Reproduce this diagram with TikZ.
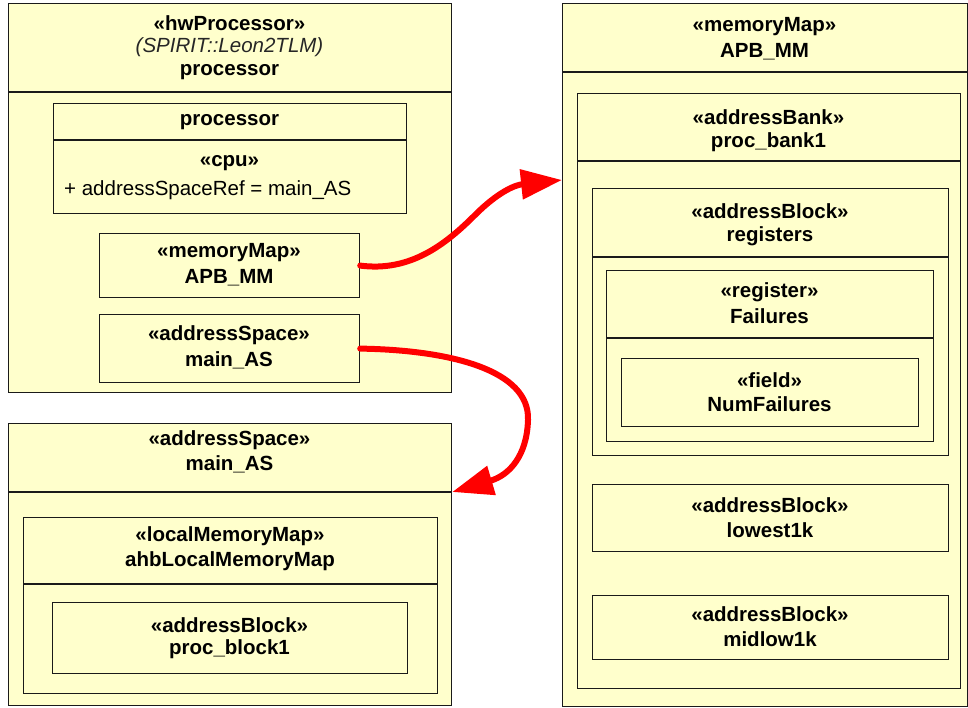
\documentclass[tikz,border=0pt]{standalone}
\usepackage{fontspec}
\setmainfont{Liberation Sans}
\usetikzlibrary{arrows.meta}
\definecolor{boxfill}{HTML}{FFFFCC}
\definecolor{boxline}{HTML}{1A1A1A}
\definecolor{arrowred}{HTML}{FF0000}
\tikzset{
  box/.style={draw=boxline, fill=boxfill, line width=1.2pt, inner sep=0pt, anchor=north west},
  divider/.style={draw=boxline, line width=1.2pt},
  lbl/.style={inner sep=0pt, font=\fontsize{20.5}{24}\selectfont\bfseries, text=black},
  ilbl/.style={inner sep=0pt, font=\fontsize{20.5}{24}\selectfont\itshape, text=black!85},
  rlbl/.style={inner sep=0pt, font=\fontsize{20.5}{24}\selectfont, text=black, anchor=west},
  link/.style={draw=arrowred, line width=6pt, line cap=round, -{Triangle[length=41pt,width=29pt]}}
}
\begin{document}
\begin{tikzpicture}[x=1pt,y=-1pt]
\useasboundingbox (0,0) rectangle (968,707);
% ---------- hwProcessor ----------
\node[box, minimum width=443, minimum height=389] (hw) at (8,3) {};
\draw[divider] (8,92) -- (451,92);
\node[lbl] (hwst) at (229.5,23) {«hwProcessor»};
\node[ilbl] (hwty) at (229.5,47) {(SPIRIT::Leon2TLM)};
\node[lbl] (hwnm) at (229.5,72) {processor};
\node[box, minimum width=353, minimum height=110] (cpu) at (53,103) {};
\draw[divider] (53,140) -- (406,140);
\node[lbl] (cpunm) at (229.5,122) {processor};
\node[lbl] (cpust) at (229.5,163) {«cpu»};
\node[rlbl] (cpuattr) at (64,190) {+ addressSpaceRef = main\_AS};
\node[box, minimum width=260, minimum height=64] (mm) at (99,233) {};
\node[lbl] (mmst) at (229,253) {«memoryMap»};
\node[lbl] (mmnm) at (229,278) {APB\_MM};
\node[box, minimum width=260, minimum height=68] (as) at (99,314) {};
\node[lbl] (asst) at (229,335) {«addressSpace»};
\node[lbl] (asnm) at (229,360) {main\_AS};
% ---------- addressSpace main_AS ----------
\node[box, minimum width=443, minimum height=282] (asb) at (8,423) {};
\draw[divider] (8,492) -- (451,492);
\node[lbl] (asbst) at (229.5,440) {«addressSpace»};
\node[lbl] (asbnm) at (229.5,464) {main\_AS};
\node[box, minimum width=414, minimum height=176] (lmm) at (23,517) {};
\draw[divider] (23,584) -- (437,584);
\node[lbl] (lmmst) at (230,536) {«localMemoryMap»};
\node[lbl] (lmmnm) at (230,561) {ahbLocalMemoryMap};
\node[box, minimum width=355, minimum height=71] (pb) at (52,602) {};
\node[lbl] (pbst) at (229.5,625) {«addressBlock»};
\node[lbl] (pbnm) at (229.5,649) {proc\_block1};
% ---------- memoryMap APB_MM ----------
\node[box, minimum width=405, minimum height=703] (rmm) at (562,3) {};
\draw[divider] (562,72) -- (967,72);
\node[lbl] (rmmst) at (764.5,27) {«memoryMap»};
\node[lbl] (rmmnm) at (764.5,52) {APB\_MM};
\node[box, minimum width=383, minimum height=595] (bank) at (577,93) {};
\draw[divider] (577,161) -- (960,161);
\node[lbl] (bankst) at (768.5,117) {«addressBank»};
\node[lbl] (banknm) at (768.5,142) {proc\_bank1};
\node[box, minimum width=356, minimum height=267] (regs) at (592,188) {};
\draw[divider] (592,257) -- (948,257);
\node[lbl] (regsst) at (770,211) {«addressBlock»};
\node[lbl] (regsnm) at (770,236) {registers};
\node[box, minimum width=327, minimum height=171] (reg) at (606,270) {};
\draw[divider] (606,338) -- (933,338);
\node[lbl] (regst) at (769.5,292) {«register»};
\node[lbl] (regnm) at (769.5,316) {Failures};
\node[box, minimum width=297, minimum height=68] (fld) at (621,358) {};
\node[lbl] (fldst) at (769.5,380) {«field»};
\node[lbl] (fldnm) at (769.5,404) {NumFailures};
\node[box, minimum width=356, minimum height=67] (low) at (592,484) {};
\node[lbl] (lowst) at (770,505) {«addressBlock»};
\node[lbl] (lownm) at (770,530) {lowest1k};
\node[box, minimum width=356, minimum height=64] (mid) at (592,595) {};
\node[lbl] (midst) at (770,614) {«addressBlock»};
\node[lbl] (midnm) at (770,639) {midlow1k};
% ---------- links ----------
\coordinate (tip1) at (rmm.west |- 0,180);
\coordinate (tip2) at (asb.east |- 0,492);
\draw[link] (mm.east) .. controls (410,272) and (445,245) .. (475,215)
  .. controls (498,192) and (515,185) .. (tip1);
\draw[link] (as.east) .. controls (450,350) and (530,370) .. (528,420)
  .. controls (527,455) and (510,475) .. (tip2);
\end{tikzpicture}
\end{document}
